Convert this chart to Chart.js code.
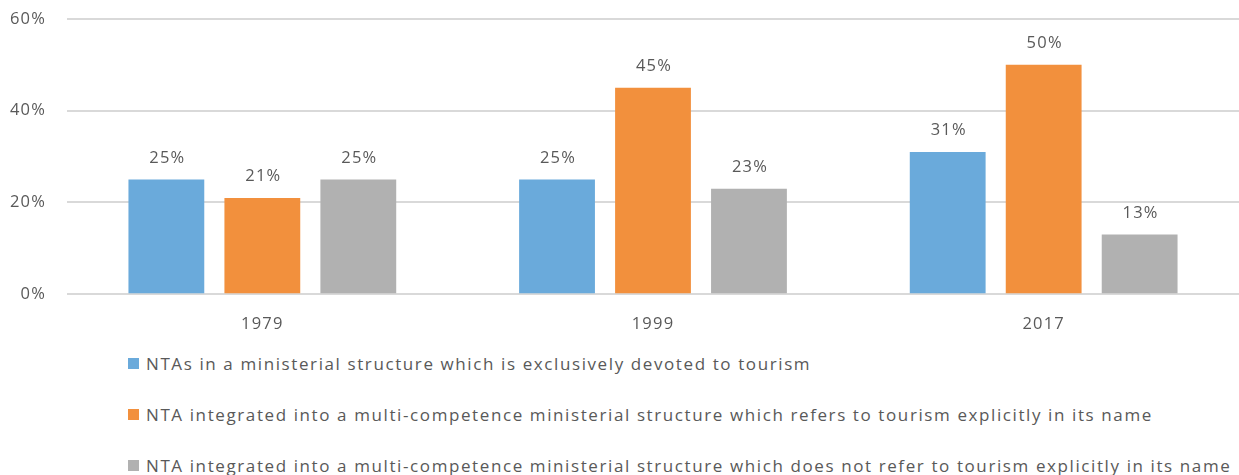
<!DOCTYPE html>
<html>
<head>
<meta charset="utf-8">
<script src="https://cdn.jsdelivr.net/npm/chart.js@4/dist/chart.umd.min.js"></script>
<style>
    html, body { margin: 0; padding: 0; background: #fff; }
    #wrap { position: relative; width: 1239px; height: 350px; }
    #legend { position: absolute; top: 353px; left: 0; margin: 0; padding: 0 0 0 128px; list-style: none;
              font-family: "Open Sans", sans-serif; font-size: 17px; letter-spacing: 1.6px; color: #595959; }
    #legend li { display: flex; align-items: center; height: 20px; margin-bottom: 31px; white-space: nowrap; }
    #legend li span.box { width: 11px; height: 11px; margin-right: 7px; flex: none; }
</style>
</head>
<body>
<div id="wrap"><canvas id="myChart"></canvas></div>
<ul id="legend"></ul>
<script>
// Anos e séries
const anos = ['1979', '1999', '2017'];
const nomesSeries = [
    'NTAs in a ministerial structure which is exclusively devoted to tourism',
    'NTA integrated into a multi-competence ministerial structure which refers to tourism explicitly in its name',
    'NTA integrated into a multi-competence ministerial structure which does not refer to tourism explicitly in its name'
];
const exclusivo = [25, 25, 31];
const comTurismoNoNome = [21, 45, 50];
const semTurismoNoNome = [25, 23, 13];
const cores = ['#6aaadb', '#f2903d', '#b1b1b1'];
const ticksY = [0, 20, 40, 60];

const fonte = '"Open Sans", sans-serif';
const corTexto = '#595959';
const espacamento = '1.2px';

// Espaçamento entre letras para todo o texto do canvas
const espacoLetras = {
    id: 'espacoLetras',
    beforeDraw(chart) { chart.ctx.letterSpacing = espacamento; }
};

// Plugin simples para escrever o valor acima de cada barra
const rotulosValor = {
    id: 'rotulosValor',
    afterDatasetsDraw(chart) {
        const ctx = chart.ctx;
        ctx.save();
        ctx.letterSpacing = espacamento;
        ctx.font = '16.5px ' + fonte;
        ctx.fillStyle = corTexto;
        ctx.textAlign = 'center';
        ctx.textBaseline = 'bottom';
        chart.data.datasets.forEach((ds, i) => {
            chart.getDatasetMeta(i).data.forEach((bar, j) => {
                ctx.fillText(ds.data[j] + '%', bar.x + 1, bar.y - 13);
            });
        });
        ctx.restore();
    }
};

const series = [exclusivo, comTurismoNoNome, semTurismoNoNome];

const ctx = document.getElementById('myChart').getContext('2d');
const myChart = new Chart(ctx, {
    type: 'bar',
    data: {
        labels: anos,
        datasets: series.map((valores, i) => ({
            label: nomesSeries[i],
            data: valores,
            backgroundColor: cores[i],
            borderWidth: 0,
            categoryPercentage: 0.737,
            barPercentage: 0.79
        }))
    },
    options: {
        responsive: true,
        maintainAspectRatio: false,
        animation: false,
        layout: { padding: { top: 0, left: 0, right: 0, bottom: 4 } },
        scales: {
            x: {
                grid: { display: false },
                border: { display: false },
                ticks: { color: corTexto, font: { family: fonte, size: 16.5 }, padding: 12 }
            },
            y: {
                min: 0,
                max: 60,
                afterBuildTicks: axis => { axis.ticks = ticksY.map(v => ({ value: v })); },
                afterFit: axis => {
                    axis.width = 67;
                    axis.paddingTop = 19;
                    axis.paddingBottom = 10;
                },
                grid: { color: '#d9d9d9', lineWidth: 2, drawTicks: false },
                border: { display: false },
                ticks: {
                    color: corTexto,
                    font: { family: fonte, size: 16.5 },
                    padding: 21,
                    callback: v => v + '%'
                }
            }
        },
        plugins: {
            legend: { display: false },
            tooltip: { enabled: false }
        }
    },
    plugins: [espacoLetras, rotulosValor]
});

// Legenda em HTML, uma linha por série
const legenda = document.getElementById('legend');
nomesSeries.forEach((nome, i) => {
    const li = document.createElement('li');
    const box = document.createElement('span');
    box.className = 'box';
    box.style.background = cores[i];
    li.appendChild(box);
    li.appendChild(document.createTextNode(nome));
    legenda.appendChild(li);
});
</script>
</body>
</html>
